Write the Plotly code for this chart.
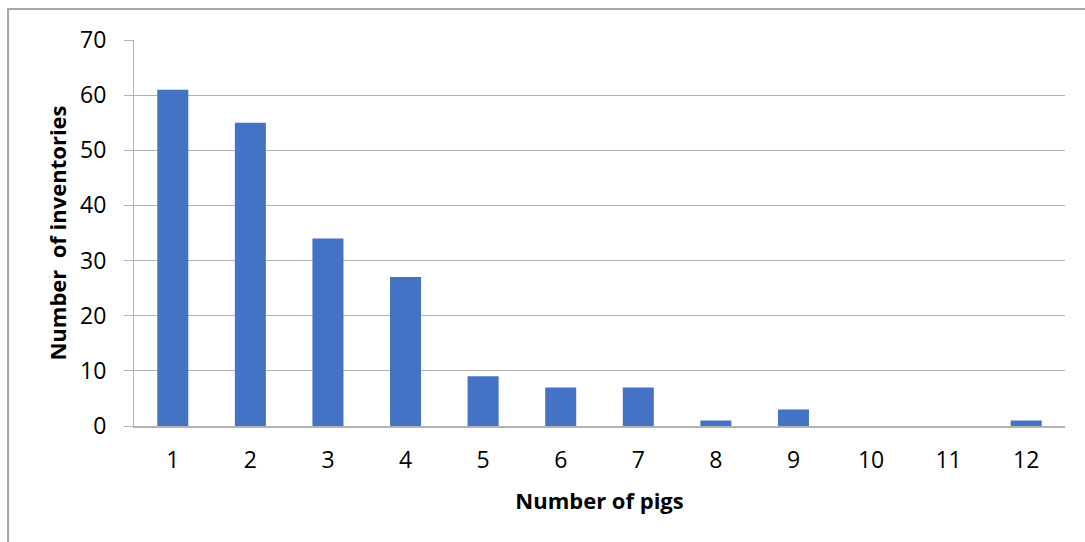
import plotly.graph_objects as go

# Number of pigs per inventory and how many inventories had that count
pigs = ["1", "2", "3", "4", "5", "6", "7", "8", "9", "10", "11", "12"]
inventories = [61, 55, 34, 27, 9, 7, 7, 1, 3, 0, 0, 1]

y_ticks = [0, 10, 20, 30, 40, 50, 60, 70]

grid = "#b3b3b3"
font = "'Open Sans', Lato, sans-serif"

fig = go.Figure(
    go.Bar(
        x=pigs,
        y=inventories,
        marker=dict(color="#4472c4", line=dict(width=0)),
        hoverinfo="x+y",
    )
)

fig.update_layout(
    width=1085,
    height=542,
    margin=dict(l=134, r=20, t=40, b=116),
    paper_bgcolor="white",
    plot_bgcolor="white",
    bargap=0.6,
    showlegend=False,
    font=dict(family=font, color="#000000", size=23),
    xaxis=dict(
        type="category",
        showgrid=False,
        showline=True,
        linecolor=grid,
        linewidth=1.5,
        ticks="",
        ticklabelstandoff=13,
        tickfont=dict(size=23),
        title=dict(
            text="<b>Number of pigs</b>",
            font=dict(size=22),
            standoff=19,
        ),
    ),
    yaxis=dict(
        range=[0, 70],
        tickvals=y_ticks,
        showgrid=True,
        gridcolor=grid,
        gridwidth=1,
        showline=True,
        linecolor=grid,
        linewidth=1,
        ticks="outside",
        ticklen=9,
        tickcolor=grid,
        ticklabelstandoff=13,
        tickfont=dict(size=23),
        zeroline=False,
        title=dict(
            text="<b>Number&nbsp; of inventories</b>",
            font=dict(size=22),
            standoff=7,
        ),
    ),
    shapes=[
        dict(
            type="rect",
            xref="paper",
            yref="paper",
            x0=-0.1353,
            x1=1.03,
            y0=-0.33,
            y1=1.0803,
            line=dict(color="#a6a6a6", width=2),
            fillcolor="rgba(0,0,0,0)",
            layer="below",
        )
    ],
)

fig.write_html("out.html")
